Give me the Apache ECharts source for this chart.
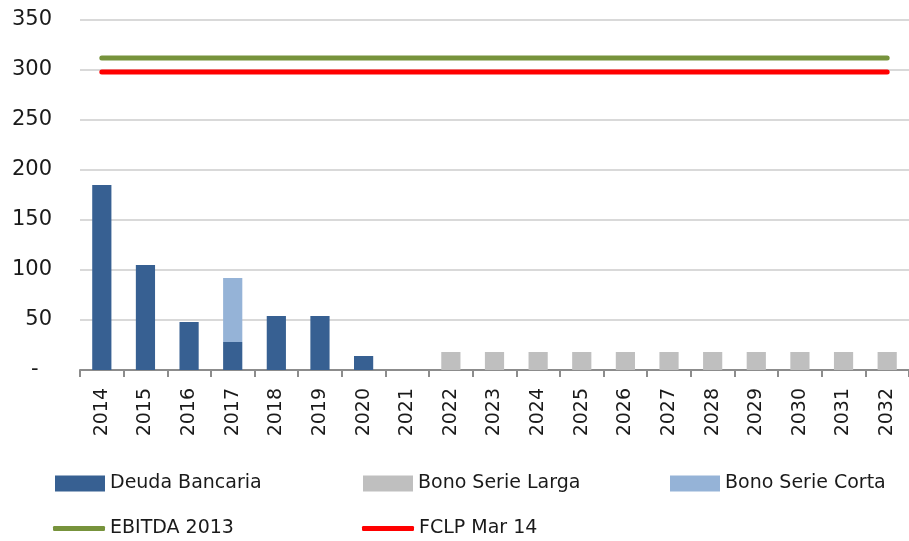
<!DOCTYPE html>
<html>
<head>
<meta charset="utf-8">
<script src="https://cdn.jsdelivr.net/npm/echarts@6/dist/echarts.min.js"></script>
<style>
  html, body { margin: 0; padding: 0; background: #fff; }
  #chartsDom { width: 909px; height: 541px; }
</style>
</head>
<body>
<div id="chartsDom"></div>
<script>
/* datos */
const years = ['2014', '2015', '2016', '2017', '2018', '2019', '2020', '2021', '2022', '2023',
  '2024', '2025', '2026', '2027', '2028', '2029', '2030', '2031', '2032'];
const deudaBancaria = [185, 105, 48, 28, 54, 54, 14, 0, 0, 0, 0, 0, 0, 0, 0, 0, 0, 0, 0];
const bonoCorta = [0, 0, 0, 64, 0, 0, 0, 0, 0, 0, 0, 0, 0, 0, 0, 0, 0, 0, 0];
const bonoLarga = [0, 0, 0, 0, 0, 0, 0, 0, 18, 18, 18, 18, 18, 18, 18, 18, 18, 18, 18];
const ebitda2013 = years.map(() => 312);
const fclpMar14 = years.map(() => 298);

const chartsDom = echarts.init(document.getElementById('chartsDom'));
const legendText = { fontFamily: 'DejaVu Sans', fontSize: 19, color: '#1a1a1a' };

let option = {
  animation: false,
  grid: { left: 80, right: 0, top: 20, bottom: 171 },
  legend: [
    { data: ['Deuda Bancaria'], left: 50, top: 469, icon: 'rect', itemWidth: 50, itemHeight: 16, itemGap: 5, textStyle: legendText },
    { data: ['Bono Serie Larga'], left: 358, top: 469, icon: 'rect', itemWidth: 50, itemHeight: 16, textStyle: legendText },
    { data: ['Bono Serie Corta'], left: 665, top: 469, icon: 'rect', itemWidth: 50, itemHeight: 16, textStyle: legendText },
    { data: ['EBITDA 2013'], left: 48, top: 514, icon: 'roundRect', itemWidth: 52, itemHeight: 5, textStyle: legendText },
    { data: ['FCLP Mar 14'], left: 357, top: 514, icon: 'roundRect', itemWidth: 52, itemHeight: 5, textStyle: legendText }
  ],
  xAxis: {
    type: 'category',
    data: years,
    axisLine: { lineStyle: { color: '#8c8c8c', width: 2 } },
    axisTick: { show: true, length: 7, lineStyle: { color: '#8c8c8c', width: 2 } },
    axisLabel: { rotate: 90, margin: 18, fontFamily: 'DejaVu Sans', fontSize: 19, color: '#1a1a1a' }
  },
  yAxis: {
    type: 'value',
    min: 0,
    max: 350,
    interval: 50,
    axisLine: { show: false },
    axisTick: { show: false },
    splitLine: { lineStyle: { color: '#d9d9d9', width: 2 } },
    axisLabel: {
      margin: 28,
      fontFamily: 'DejaVu Sans',
      fontSize: 21,
      color: '#1a1a1a',
      formatter: v => (v === 0 ? '-  ' : v)
    }
  },
  series: [
    { name: 'Deuda Bancaria', type: 'bar', stack: 'total', barWidth: '44%', data: deudaBancaria, itemStyle: { color: '#376092' } },
    { name: 'Bono Serie Corta', type: 'bar', stack: 'total', data: bonoCorta, itemStyle: { color: '#95b3d7' } },
    { name: 'Bono Serie Larga', type: 'bar', stack: 'total', data: bonoLarga, itemStyle: { color: '#bfbfbf' } },
    { name: 'EBITDA 2013', type: 'line', data: ebitda2013, symbol: 'none', lineStyle: { color: '#77933c', width: 5, cap: 'round' }, itemStyle: { color: '#77933c' } },
    { name: 'FCLP Mar 14', type: 'line', data: fclpMar14, symbol: 'none', lineStyle: { color: '#ff0000', width: 5, cap: 'round' }, itemStyle: { color: '#ff0000' } }
  ]
};
option && chartsDom.setOption(option);
</script>
</body>
</html>
